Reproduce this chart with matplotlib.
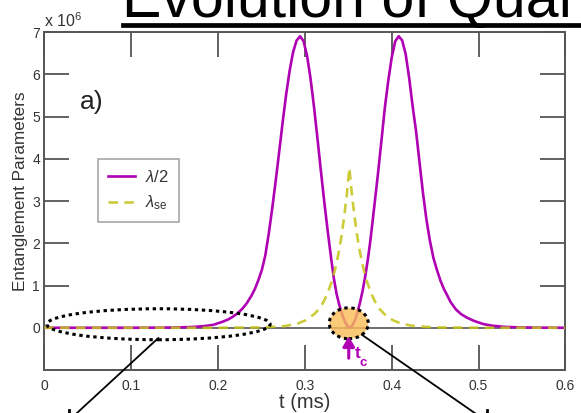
import matplotlib
matplotlib.use("Agg")
import matplotlib.pyplot as plt
from matplotlib.patches import Ellipse
from matplotlib.lines import Line2D

plt.rcParams["font.family"] = ["Liberation Sans", "DejaVu Sans"]
plt.rcParams["mathtext.fontset"] = "custom"
plt.rcParams["mathtext.rm"] = "Liberation Sans"
plt.rcParams["mathtext.it"] = "Liberation Sans:italic"
plt.rcParams["mathtext.bf"] = "Liberation Sans:bold"

# ---- data (values in units of 10^6) ----
t_half = [0.000, 0.050, 0.100, 0.130, 0.150, 0.165, 0.175, 0.185, 0.1947, 0.205,
          0.212, 0.2177, 0.223, 0.228, 0.2331, 0.2385, 0.2425, 0.2465, 0.2505, 0.2545,
          0.2585, 0.2625, 0.2665, 0.2705, 0.2745, 0.2785, 0.2825, 0.2865, 0.2905, 0.2945,
          0.2985, 0.3025, 0.3065, 0.3105, 0.3145, 0.3185, 0.3225, 0.3265, 0.3305, 0.3335,
          0.3365, 0.3395, 0.3425, 0.3455, 0.3485, 0.3515, 0.3545, 0.3575, 0.3605, 0.3635,
          0.3665, 0.3695, 0.3725, 0.3755, 0.3795, 0.384, 0.388, 0.392, 0.396, 0.400,
          0.404, 0.408, 0.412, 0.416, 0.420, 0.424, 0.428, 0.432, 0.436, 0.440,
          0.444, 0.448, 0.452, 0.456, 0.460, 0.464, 0.468, 0.474, 0.480, 0.4865,
          0.495, 0.505, 0.515, 0.530, 0.550, 0.575, 0.600]
lam_half = [0.0, 0.0, 0.0, 0.002, 0.006, 0.014, 0.024, 0.041, 0.07, 0.14,
            0.20, 0.27, 0.35, 0.45, 0.58, 0.76, 0.92, 1.13, 1.37, 1.72,
            2.24, 2.84, 3.49, 4.18, 4.88, 5.53, 6.09, 6.53, 6.80, 6.90,
            6.78, 6.44, 5.90, 5.23, 4.48, 3.70, 2.95, 2.25, 1.60, 1.15,
            0.80, 0.55, 0.34, 0.17, 0.05, 0.0, 0.05, 0.17, 0.36, 0.60,
            0.88, 1.22, 1.62, 2.08, 2.80, 3.62, 4.40, 5.20, 5.85, 6.40,
            6.78, 6.90, 6.80, 6.48, 5.92, 5.25, 4.65, 3.91, 3.18, 2.55,
            2.05, 1.65, 1.37, 1.12, 0.92, 0.76, 0.60, 0.43, 0.32, 0.24,
            0.16, 0.09, 0.05, 0.02, 0.007, 0.002, 0.0]

t_se = [0.0, 0.2012, 0.2512, 0.2762, 0.2912, 0.3012, 0.3112, 0.3162, 0.3212, 0.3262,
        0.3312, 0.3352, 0.3392, 0.3422, 0.3452, 0.3482, 0.3512, 0.3542, 0.3572, 0.3602,
        0.3632, 0.3672, 0.3712, 0.3762, 0.3812, 0.3862, 0.3912, 0.4012, 0.4112, 0.4262,
        0.4512, 0.5012, 0.600]
lam_se = [0.0, 0.0, 0.008, 0.038, 0.095, 0.18, 0.33, 0.44, 0.60, 0.82,
          1.11, 1.42, 1.81, 2.18, 2.62, 3.14, 3.78, 3.14, 2.62, 2.18,
          1.81, 1.42, 1.11, 0.82, 0.60, 0.44, 0.33, 0.18, 0.095, 0.038,
          0.008, 0.0, 0.0]

x_ticks = [0.0, 0.1, 0.2, 0.3, 0.4, 0.5, 0.6]
x_ticklabels = ["0", "0.1", "0.2", "0.3", "0.4", "0.5", "0.6"]
y_ticks = [0, 1, 2, 3, 4, 5, 6, 7]
y_ticklabels = ["0", "1", "2", "3", "4", "5", "6", "7"]
t_c = 0.3505

# ---- styling ----
MAGENTA = "#b000b4"
YELLOW = "#c4c418"
AXCOL = "#555555"
TXTCOL = "#333333"

fig = plt.figure(figsize=(5.81, 4.13), dpi=100)
ax = fig.add_axes([0.0762, 0.1041, 0.8971, 0.8184])

ax.axhline(0, color=AXCOL, lw=1.2, zorder=1.5)
ax.plot(t_half, lam_half, color=MAGENTA, lw=1.9, zorder=2, label=r"$\lambda$/2")
ax.plot(t_se, lam_se, color=YELLOW, lw=1.9, alpha=0.85, zorder=3,
        dashes=(3.6, 2.4), label=r"$\lambda_{\mathrm{se}}$")

ax.set_xlim(0, 0.6)
ax.set_ylim(-1, 7)
ax.set_xticks(x_ticks)
ax.set_xticklabels(x_ticklabels)
ax.set_yticks(y_ticks)
ax.set_yticklabels(y_ticklabels)

for sp in ax.spines.values():
    sp.set_color(AXCOL)
    sp.set_linewidth(1.4)
ax.tick_params(direction="in", length=18, width=1.3, color=AXCOL,
               labelcolor=TXTCOL, labelsize=10, top=True, right=True)
ax.tick_params(axis="x", pad=6.5)
ax.tick_params(axis="y", pad=3)

ax.set_xlabel("t (ms)", fontsize=14.5, color=TXTCOL)
ax.set_ylabel("Entanglement Parameters", fontsize=12.3, color=TXTCOL)
ax.xaxis.set_label_coords(0.5, -0.068)
ax.yaxis.set_label_coords(-0.031, 0.528)

ax.text(0.0, 1.0148, r"x 10$^{6}$", transform=ax.transAxes, fontsize=11.5,
        color=TXTCOL, ha="left", va="baseline")
ax.text(0.0685, 0.772, "a)", transform=ax.transAxes, fontsize=19,
        color="#222222", ha="left", va="baseline")

leg = ax.legend(loc="upper left", bbox_to_anchor=(0.1036, 0.6234), fontsize=12,
                frameon=True, fancybox=False, handlelength=1.6, handletextpad=0.6,
                labelspacing=0.5, borderpad=0.6, borderaxespad=0)
leg.get_frame().set_edgecolor("#888888")
leg.get_frame().set_linewidth(1.1)
for txt in leg.get_texts():
    txt.set_color(TXTCOL)

# highlighted regions
dot_style = dict(fill=False, edgecolor="black", lw=2.2, linestyle=(0, (1.1, 1.2)), zorder=6)
ax.add_patch(Ellipse((0.1315, 0.083), 0.257, 0.733, **dot_style))
ax.add_patch(Ellipse((t_c, 0.106), 0.0449, 0.733, facecolor="#fbbd58", alpha=0.8,
                     edgecolor="none", zorder=5))
ax.add_patch(Ellipse((t_c, 0.106), 0.0449, 0.733, **dot_style))

# pointer lines leaving the plot
ax.add_line(Line2D([0.1313, 0.0296], [-0.243, -2.17], color="black", lw=1.3,
                   clip_on=False, zorder=6))
ax.add_line(Line2D([0.3656, 0.5062], [-0.165, -2.17], color="black", lw=1.3,
                   clip_on=False, zorder=6))

# critical time marker
ax.annotate("", xy=(t_c, -0.2), xytext=(t_c, -0.72),
            arrowprops=dict(arrowstyle="-|>,head_width=0.35,head_length=0.6",
                            color=MAGENTA, lw=2.2, shrinkA=0, shrinkB=0,
                            mutation_scale=10), zorder=7)
ax.text(t_c + 0.0102, -0.615, "t", color=MAGENTA, fontsize=12.5,
        fontweight="bold", ha="center", va="center")
ax.text(t_c + 0.0123, -0.83, "c", color=MAGENTA, fontsize=9.5,
        fontweight="bold", ha="left", va="center")

# slide heading
fig.text(0.21, 0.9588, "Evolution of Quantum Entanglement", fontsize=42.5,
         color="black", ha="left", va="baseline")
fig.add_artist(Line2D([123 / 581, 1.0], [1 - 25 / 413, 1 - 25 / 413],
                      color="black", lw=3.4, transform=fig.transFigure))

# tips of the callout arrows just below the figure edge
for xp in (68.5 / 581, 486.5 / 581):
    fig.add_artist(Line2D([xp, xp], [0.0, 3 / 413], color="black", lw=2.0,
                          transform=fig.transFigure))

fig.savefig("out.png", dpi=100)
